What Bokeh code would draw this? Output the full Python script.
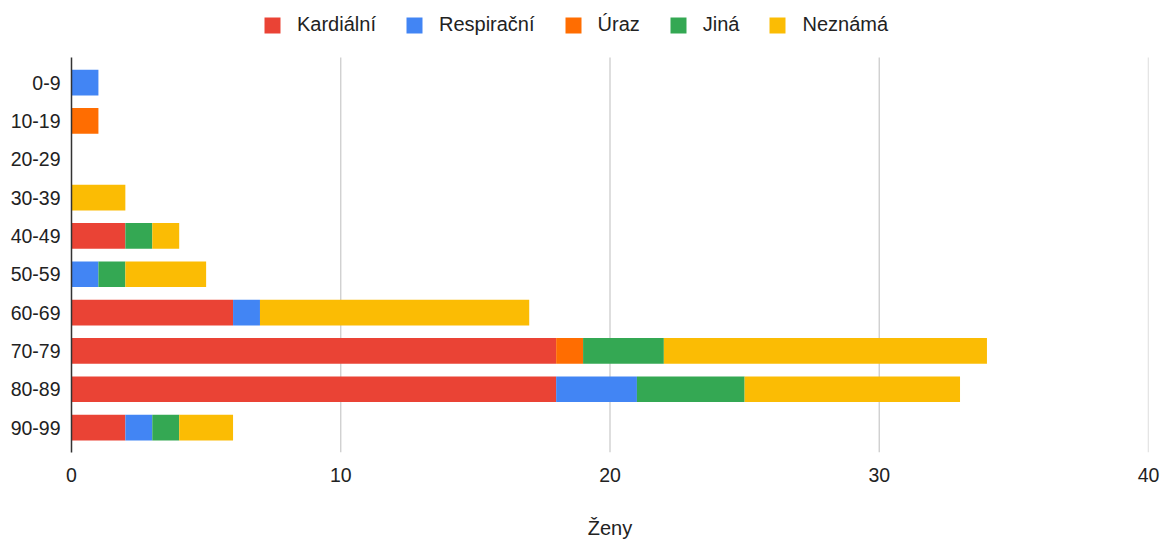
from bokeh.plotting import figure
from bokeh.models import ColumnDataSource, Range1d, Legend, LegendItem, FixedTicker
from bokeh.embed import file_html
from bokeh.resources import INLINE

groups = ["0-9", "10-19", "20-29", "30-39", "40-49", "50-59", "60-69", "70-79", "80-89", "90-99"]
series = ["Kardiální", "Respirační", "Úraz", "Jiná", "Neznámá"]
kardialni = [0, 0, 0, 0, 2, 0, 6, 18, 18, 2]
respiracni = [1, 0, 0, 0, 0, 1, 1, 0, 3, 1]
uraz = [0, 1, 0, 0, 0, 0, 0, 1, 0, 0]
jina = [0, 0, 0, 0, 1, 1, 0, 3, 4, 1]
neznama = [0, 0, 0, 2, 1, 3, 10, 12, 8, 2]
colors = ["#EA4335", "#4285F4", "#FF6D01", "#34A853", "#FBBC04"]
x_ticks = [0, 10, 20, 30, 40]

n = len(groups)
ypos = [n - 1 - i for i in range(n)]  # first group at the top
src = ColumnDataSource(dict(y=ypos, **{
    "Kardiální": kardialni, "Respirační": respiracni, "Úraz": uraz,
    "Jiná": jina, "Neznámá": neznama}))

PAD = 0.65
TOP_SPACE = 1.49
FONT = "Liberation Sans"
p = figure(width=1165, height=543, output_backend="svg", toolbar_location=None,
           y_range=Range1d(-PAD, n - 1 + PAD + TOP_SPACE),
           x_range=Range1d(x_ticks[0], x_ticks[-1]),
           min_border_left=71, min_border_right=17, min_border_top=0, min_border_bottom=91)
p.outline_line_color = None
p.xgrid.grid_line_color = None
p.ygrid.grid_line_color = None

# vertical grid lines limited to the bar area
p.segment(x0=x_ticks[1:], x1=x_ticks[1:], y0=-PAD, y1=n - 1 + PAD,
          line_color="#CCCCCC", line_width=1.3)

renderers = p.hbar_stack(series, y="y", height=0.67, color=colors, source=src, line_width=0)

legend = Legend(items=[LegendItem(label=s, renderers=[r]) for s, r in zip(series, renderers)],
                orientation="horizontal", location=(191, 416))
legend.label_text_font = FONT
legend.label_text_font_size = "20px"
legend.label_text_color = "#222222"
legend.glyph_width = 20
legend.glyph_height = 20
legend.label_standoff = 15
legend.spacing = 28
legend.padding = 0
legend.margin = 0
legend.border_line_color = None
legend.background_fill_alpha = 0
p.add_layout(legend, "center")

p.xaxis.ticker = x_ticks
p.xaxis.axis_line_color = None
p.xaxis.major_tick_line_color = None
p.xaxis.minor_tick_line_color = None
p.xaxis.major_label_text_font = FONT
p.xaxis.major_label_text_font_size = "19.5px"
p.xaxis.major_label_text_color = "#222222"
p.xaxis.major_label_standoff = 9
p.xaxis.axis_label = "Ženy"
p.xaxis.axis_label_text_font = FONT
p.xaxis.axis_label_text_font_size = "20px"
p.xaxis.axis_label_text_font_style = "normal"
p.xaxis.axis_label_text_color = "#222222"
p.xaxis.axis_label_standoff = 32

p.yaxis.ticker = FixedTicker(ticks=ypos)
p.yaxis.major_label_overrides = {y: g for y, g in zip(ypos, groups)}
p.yaxis.bounds = (-PAD, n - 1 + PAD)
p.yaxis.axis_line_color = "#333333"
p.yaxis.axis_line_width = 1.5
p.yaxis.major_tick_line_color = None
p.yaxis.minor_tick_line_color = None
p.yaxis.major_label_text_font = FONT
p.yaxis.major_label_text_font_size = "19.5px"
p.yaxis.major_label_text_color = "#222222"
p.yaxis.major_label_standoff = 5

open("out.html", "w").write(file_html(p, INLINE))
